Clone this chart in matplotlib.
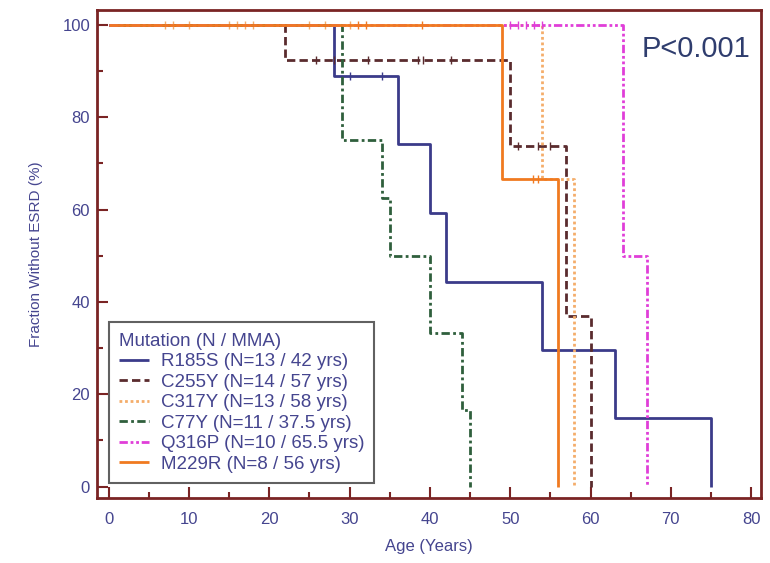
import matplotlib
matplotlib.use("Agg")
import matplotlib.pyplot as plt
from matplotlib.ticker import MultipleLocator

plt.rcParams['font.family'] = ['Liberation Sans', 'DejaVu Sans']

TEXT_COL = "#45458f"
AXIS_COL = "#7a2424"

# Kaplan-Meier steps: (age, fraction without ESRD)
r185s_t = [0, 28, 36, 40, 42, 54, 63, 75]
r185s_s = [100, 88.9, 74.1, 59.3, 44.4, 29.6, 14.8, 0]
c255y_t = [0, 22, 50, 57, 60]
c255y_s = [100, 92.3, 73.8, 36.9, 0]
c317y_t = [0, 54, 58]
c317y_s = [100, 66.7, 0]
c77y_t = [0, 29, 34, 35, 40, 44, 45]
c77y_s = [100, 75, 62.5, 50, 33.3, 16.7, 0]
q316p_t = [0, 64, 67]
q316p_s = [100, 50, 0]
m229r_t = [0, 49, 56]
m229r_s = [100, 66.7, 0]

# censored observations (age, level)
r185s_cens_t = [30, 34]
r185s_cens_s = [88.9, 88.9]
c255y_cens_t = [25.8, 28, 32.3, 38.5, 39.1, 42.6, 51, 53.4, 55]
c255y_cens_s = [92.3] * 6 + [73.8] * 3
c317y_cens_t = [7, 8, 10, 15, 16, 17, 18, 25, 27, 30]
c317y_cens_s = [100] * 10
q316p_cens_t = [50, 51, 52, 53, 54]
q316p_cens_s = [100] * 5
m229r_cens_t = [31, 32, 39, 52.8, 53.4]
m229r_cens_s = [100, 100, 100, 66.7, 66.7]

labels = ["R185S (N=13 / 42 yrs)", "C255Y (N=14 / 57 yrs)", "C317Y (N=13 / 58 yrs)",
          "C77Y (N=11 / 37.5 yrs)", "Q316P (N=10 / 65.5 yrs)", "M229R (N=8 / 56 yrs)"]

series = [
    (r185s_t, r185s_s, r185s_cens_t, r185s_cens_s, "#3b3b8a", (0, ())),
    (c255y_t, c255y_s, c255y_cens_t, c255y_cens_s, "#5a2b2e", (0, (3, 1.5))),
    (c317y_t, c317y_s, c317y_cens_t, c317y_cens_s, "#f4ad6a", (0, (1, 1))),
    (c77y_t, c77y_s, [], [], "#2f5f3c", (0, (3, 1.2, 1, 1.2))),
    (q316p_t, q316p_s, q316p_cens_t, q316p_cens_s, "#e03ed8", (0, (3, 1, 1, 1, 1, 1))),
    (m229r_t, m229r_s, m229r_cens_t, m229r_cens_s, "#f07a20", (0, ())),
]

fig = plt.figure(figsize=(7.7, 5.63), dpi=100)
ax = fig.add_axes([0.126, 0.116, 0.862, 0.866])

for (t, s, ct, cs, col, ls), lab in zip(series, labels):
    ax.step(t, s, where='post', color=col, linestyle=ls, linewidth=2.0, label=lab)
    if ct:
        ax.plot(ct, cs, linestyle='none', marker='|', markersize=6,
                markeredgewidth=1.0, color=col)

ax.set_xlim(-1.45, 81.2)
ax.set_ylim(-2.4, 103.2)
ax.xaxis.set_major_locator(MultipleLocator(10))
ax.xaxis.set_minor_locator(MultipleLocator(5))
ax.yaxis.set_major_locator(MultipleLocator(20))
ax.yaxis.set_minor_locator(MultipleLocator(10))
ax.tick_params(which='both', direction='in', color=AXIS_COL, width=1.5,
               labelcolor=TEXT_COL, labelsize=12)
ax.tick_params(which='major', length=8)
ax.tick_params(which='minor', length=4)
ax.tick_params(axis='x', which='major', pad=10)
ax.tick_params(axis='y', which='major', pad=5)
for sp in ax.spines.values():
    sp.set_color(AXIS_COL)
    sp.set_linewidth(2)

ax.set_xlabel("Age (Years)", color=TEXT_COL, fontsize=12, labelpad=9)
ax.set_ylabel("Fraction Without ESRD (%)", color=TEXT_COL, fontsize=11, labelpad=14)

ax.text(0.985, 0.92, "P<0.001", transform=ax.transAxes, ha='right', va='center',
        fontsize=21, color="#2f3d6e")

leg = ax.legend(loc='lower left', bbox_to_anchor=(0.018, 0.03), borderaxespad=0,
                title="Mutation (N / MMA)", fontsize=13.5, title_fontsize=13.5,
                frameon=True, fancybox=False, handlelength=1.6, handletextpad=0.6,
                borderpad=0.55, labelspacing=0.18, alignment='left')
leg.get_frame().set_edgecolor("#3a3a3a")
leg.get_frame().set_linewidth(1.5)
for txt in leg.get_texts():
    txt.set_color(TEXT_COL)
leg.get_title().set_color(TEXT_COL)

fig.savefig("out.png", dpi=100)
